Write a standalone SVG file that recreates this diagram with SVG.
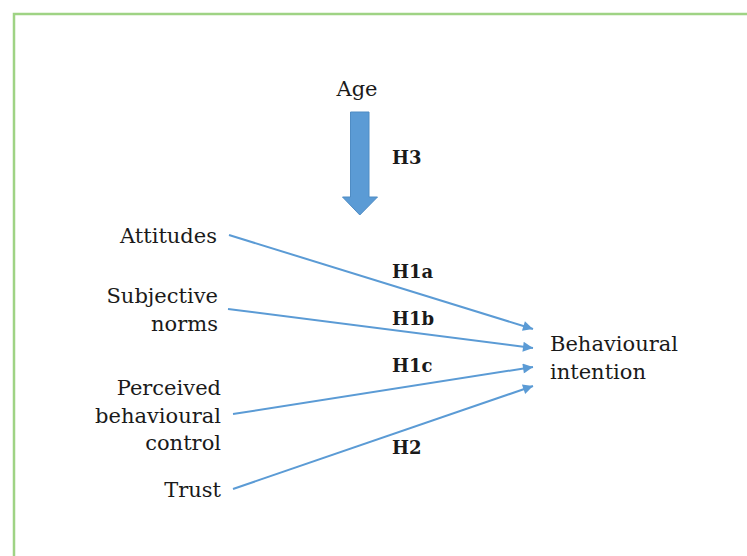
<svg xmlns="http://www.w3.org/2000/svg" width="747" height="556" viewBox="0 0 747 556">
<style>
  .lbl { font-family: "DejaVu Serif", "Liberation Serif", serif; font-size: 21px; fill: #1a1a1a; }
  .hyp { font-family: "DejaVu Serif", "Liberation Serif", serif; font-size: 18px; font-weight: bold; fill: #1a1a1a; }
  .conn { stroke: #5b9bd5; stroke-width: 2; fill: none; marker-end: url(#ah); }
</style>
<defs>
  <marker id="ah" viewBox="0 0 10 10" refX="10" refY="5" markerWidth="6" markerHeight="5" markerUnits="strokeWidth" orient="auto">
    <path d="M0,0 L10,5 L0,10 z" fill="#5b9bd5"/>
  </marker>
</defs>
<rect width="747" height="556" fill="#ffffff"/>
<path d="M14,556 V14 H747" fill="none" stroke="#9fd384" stroke-width="2.5"/>

<g id="age">
  <text class="lbl" x="357" y="96" text-anchor="middle">Age</text>
  <path d="M350.5,112 H369 V197 H377.5 L359.8,215 L342.5,197 H350.5 Z" fill="#5b9bd5" stroke="#4f8cc4" stroke-width="1"/>
</g>
<g id="attitudes"><text class="lbl" x="217" y="243" text-anchor="end">Attitudes</text></g>
<g id="subjective-norms">
  <text class="lbl" x="218" y="303" text-anchor="end">Subjective</text>
  <text class="lbl" x="218" y="331" text-anchor="end">norms</text>
</g>
<g id="pbc">
  <text class="lbl" x="221" y="395" text-anchor="end">Perceived</text>
  <text class="lbl" x="221" y="423" text-anchor="end">behavioural</text>
  <text class="lbl" x="221" y="450" text-anchor="end">control</text>
</g>
<g id="trust"><text class="lbl" x="221" y="497" text-anchor="end">Trust</text></g>
<g id="behavioural-intention">
  <text class="lbl" x="550" y="351">Behavioural</text>
  <text class="lbl" x="550" y="379">intention</text>
</g>

<g id="connectors">
  <line class="conn" x1="229" y1="235" x2="533" y2="329"/>
  <line class="conn" x1="228" y1="309" x2="533" y2="348"/>
  <line class="conn" x1="233" y1="414" x2="533" y2="367"/>
  <line class="conn" x1="233" y1="489" x2="533" y2="386"/>
</g>

<g id="labels">
  <text class="hyp" x="392" y="164">H3</text>
  <text class="hyp" x="392" y="278">H1a</text>
  <text class="hyp" x="392" y="325">H1b</text>
  <text class="hyp" x="392" y="372">H1c</text>
  <text class="hyp" x="392" y="454">H2</text>
</g>
</svg>
